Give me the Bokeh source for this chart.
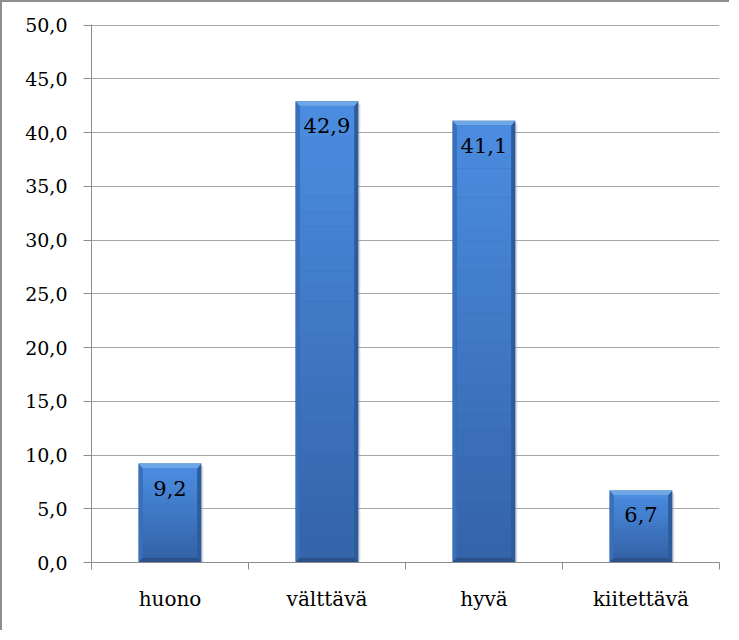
from bokeh.plotting import figure
from bokeh.models import FixedTicker, ColumnDataSource, Range1d
from bokeh.embed import file_html
from bokeh.resources import INLINE
from bokeh.core.properties import value

categories = ["huono", "välttävä", "hyvä", "kiitettävä"]
values = [9.2, 42.9, 41.1, 6.7]
y_ticks = [0, 5, 10, 15, 20, 25, 30, 35, 40, 45, 50]
y_tick_labels = ["0,0", "5,0", "10,0", "15,0", "20,0", "25,0", "30,0", "35,0", "40,0", "45,0", "50,0"]

SERIF = "DejaVu Serif"
GRID = "#a6a6a6"
AXIS = "#8c8c8c"

xs = [i + 0.5 for i in range(len(categories))]
labels = [f"{v:.1f}".replace(".", ",") for v in values]

# bar styling (bevel sizes in data units)
W = 0.4      # bar width
BX = 0.027   # side bevel width
BY = 0.45    # top/bottom bevel height


def hexmix(c1, c2, t):
    a = [int(c1[i:i + 2], 16) for i in (1, 3, 5)]
    b = [int(c2[i:i + 2], 16) for i in (1, 3, 5)]
    return "#%02x%02x%02x" % tuple(round(a[k] + (b[k] - a[k]) * t) for k in range(3))


p = figure(width=729, height=630, output_backend="svg", toolbar_location=None,
           x_range=Range1d(0, len(categories)), y_range=Range1d(0, 50.05),
           min_border_left=89, min_border_top=22, min_border_right=12, min_border_bottom=70)
p.styles = {"border-left": "2px solid #8e8e8e", "border-top": "2px solid #8e8e8e"}
p.outline_line_color = None
p.background_fill_color = "white"
p.border_fill_color = "white"

p.xgrid.grid_line_color = None
p.ygrid.grid_line_color = GRID
p.ygrid.ticker = FixedTicker(ticks=y_ticks)

# soft shadow
p.vbar(x=[x + 0.012 for x in xs], top=[v - 0.25 for v in values], bottom=-0.35,
       width=W, fill_color="#9a9a9a", fill_alpha=0.35, line_color=None)

# base (right bevel colour)
p.vbar(x=xs, top=values, bottom=0, width=W, fill_color="#2d5c9c", line_color=None)

top_xs, top_ys, left_xs, left_ys, bot_xs, bot_ys = [], [], [], [], [], []
for x, v in zip(xs, values):
    l, r = x - W / 2, x + W / 2
    top_xs.append([l, r, r - BX, l + BX]); top_ys.append([v, v, v - BY, v - BY])
    left_xs.append([l, l + BX, l + BX, l]); left_ys.append([0, BY, v - BY, v])
    bot_xs.append([l, r, r - BX, l + BX]); bot_ys.append([0, 0, BY, BY])
p.patches(left_xs, left_ys, fill_color="#3a70bb", line_color=None)
p.patches(bot_xs, bot_ys, fill_color="#2a5189", line_color=None)
p.patches(top_xs, top_ys, fill_color="#6fa6e6", line_color=None)

# body with vertical gradient (dark bottom -> light top)
N = 30
for i in range(N):
    bx, bt, bb = [], [], []
    for x, v in zip(xs, values):
        h = v - 2 * BY
        bx.append(x)
        bb.append(BY + h * i / N)
        bt.append(BY + h * (i + 1) / N + 0.03)
    p.vbar(x=bx, top=bt, bottom=bb, width=W - 2 * BX,
           fill_color=hexmix("#3464a9", "#4b8ce0", i / (N - 1)), line_color=None)

src = ColumnDataSource(dict(x=xs, top=values, label=labels))
p.text(x="x", y="top", text="label", source=src, text_align="center",
       text_baseline="top", y_offset=17, text_font=value(SERIF),
       text_font_size="21px", text_color="black")

p.yaxis.ticker = FixedTicker(ticks=y_ticks)
p.yaxis.major_label_overrides = {t: l for t, l in zip(y_ticks, y_tick_labels)}
p.yaxis.major_label_text_font = SERIF
p.yaxis.major_label_text_font_size = "19px"
p.yaxis.major_label_text_color = "black"
p.yaxis.major_label_standoff = 16
p.yaxis.axis_line_color = AXIS
p.yaxis.major_tick_line_color = AXIS
p.yaxis.major_tick_out = 8
p.yaxis.major_tick_in = 0
p.yaxis.minor_tick_line_color = None

p.xaxis.ticker = FixedTicker(ticks=xs, minor_ticks=list(range(len(categories) + 1)))
p.xaxis.major_label_overrides = {x: c for x, c in zip(xs, categories)}
p.xaxis.major_label_text_font = SERIF
p.xaxis.major_label_text_font_size = "20px"
p.xaxis.major_label_text_color = "black"
p.xaxis.major_label_standoff = 17
p.xaxis.axis_line_color = AXIS
p.xaxis.major_tick_line_color = None
p.xaxis.major_tick_out = 0
p.xaxis.major_tick_in = 0
p.xaxis.minor_tick_line_color = AXIS
p.xaxis.minor_tick_out = 7
p.xaxis.minor_tick_in = 0

open("out.html", "w").write(file_html(p, INLINE))
